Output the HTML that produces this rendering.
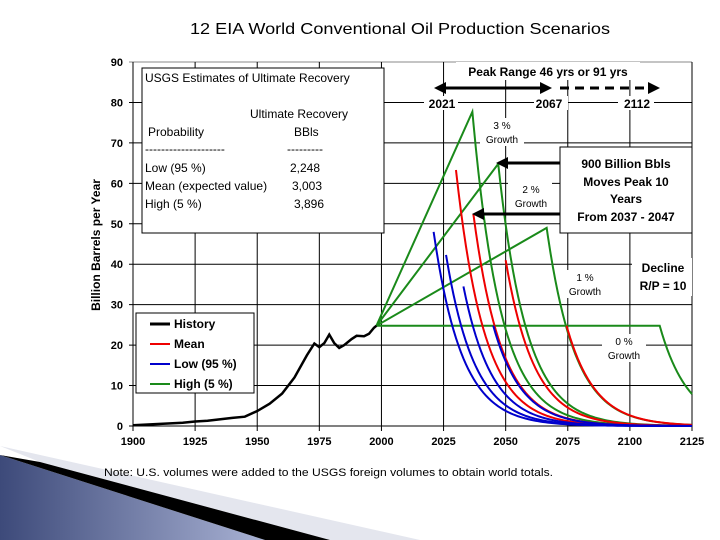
<!DOCTYPE html>
<html><head><meta charset="utf-8"><style>
body{margin:0;background:#fff;}
svg{display:block;font-family:"Liberation Sans",sans-serif;}
</style></head><body>
<svg width="720" height="540" viewBox="0 0 720 540">
<defs><linearGradient id="g1" x1="0" y1="0" x2="1" y2="0"><stop offset="0" stop-color="#3d4a7a"/><stop offset="1" stop-color="#a9b2d4"/></linearGradient></defs>
<polygon points="0,446 420,540 330,540 40,462" fill="#e4e6ee"/>
<polygon points="0,455 265,540 0,540" fill="url(#g1)"/>
<polygon points="40,462 330,540 265,540 0,455" fill="#000"/>
<text x="190" y="34" font-size="16" textLength="420" lengthAdjust="spacingAndGlyphs">12 EIA World Conventional Oil Production Scenarios</text>
<g id="grid"></g>
<g id="marks"></g>
<g id="overlay"></g>
<text transform="translate(100,245) rotate(-90)" font-size="12" font-weight="bold" text-anchor="middle">Billion Barrels per Year</text>
<text x="104" y="476" font-size="11" textLength="449" lengthAdjust="spacingAndGlyphs">Note:  U.S. volumes were added to the USGS foreign volumes to obtain world totals.</text>
</svg>
<script>
const historyYears=[1900,1910,1920,1925,1930,1940,1945,1950,1955,1960,1965,1970,1973,1975,1977,1979,1981,1983,1985,1988,1990,1993,1995,1997,1998];
const historyValues=[0.2,0.5,0.8,1.1,1.3,2,2.3,3.7,5.5,8,12,17.5,20.4,19.5,20.5,22.6,20.5,19.3,20,21.5,22.3,22.2,22.8,24.3,24.8];
const startYear=1998, startValue=24.8;
const growthPeakYears=[2036.6,2047,2066.5,2112];
const growthPeakValues=[77.7,64.8,49,24.8];
const meanPeakYears=[2030,2037,2050,2074.5];
const meanPeakValues=[63.3,52.4,41,24.8];
const lowPeakYears=[2021,2026,2033,2045];
const lowPeakValues=[48,42.3,34.5,24.8];
const declineRate=0.088;
const yTicks=[0,10,20,30,40,50,60,70,80,90];
const xTicks=[1900,1925,1950,1975,2000,2025,2050,2075,2100,2125];
const L=133,R=692,T=62,B=426;
const X=y=>L+(y-1900)/(225)*(R-L);
const Y=v=>B-v/90*(B-T);
const NS="http://www.w3.org/2000/svg";
function mk(tag,attrs,parent,txt){const e=document.createElementNS(NS,tag);for(const k in attrs)e.setAttribute(k,attrs[k]);if(txt!==undefined)e.textContent=txt;parent.appendChild(e);return e;}
const grid=document.getElementById('grid'),marks=document.getElementById('marks');
yTicks.forEach(v=>{
 const l=mk('line',{x1:L-4,x2:R,y1:Y(v),y2:Y(v),stroke:v==90?'#888':'#000','stroke-width':1},grid);
 
 
 const t=mk('text',{x:L-10,y:Y(v)+4,'font-size':11,'font-weight':'bold','text-anchor':'end'},grid,v);
 
 
});
xTicks.forEach(v=>{
 const l=mk('line',{x1:X(v),x2:X(v),y1:T,y2:B+5,stroke:'#000','stroke-width':1},grid);
 
 
 const t=mk('text',{x:X(v),y:B+19,'font-size':11,'font-weight':'bold','text-anchor':'middle'},grid,v);
 
 
});
function decline(py,pv){let d=`M${X(py)},${Y(pv)}`;for(let y=Math.ceil(py);y<=2125;y++){d+=` L${X(y)},${Y(pv*Math.exp(-declineRate*(y-py)))}`;}return d;}
function rise(py,pv){return `M${X(startYear)},${Y(startValue)} L${X(py)},${Y(pv)}`;}
growthPeakYears.forEach((py,i)=>{
 const p=mk('path',{d:rise(py,growthPeakValues[i])+' '+decline(py,growthPeakValues[i]).replace('M','L'),fill:'none',stroke:'#1a8a1a','stroke-width':2},marks);
 
 
});
meanPeakYears.forEach((py,i)=>{const p=mk('path',{d:decline(py,meanPeakValues[i]),fill:'none',stroke:'#e00','stroke-width':2},marks);
 
 });
lowPeakYears.forEach((py,i)=>{const p=mk('path',{d:decline(py,lowPeakValues[i]),fill:'none',stroke:'#00c','stroke-width':2},marks);
 
 });
const hp=mk('path',{d:historyYears.map((y,i)=>(i?'L':'M')+X(y)+','+Y(historyValues[i])).join(' '),fill:'none',stroke:'#000','stroke-width':2.5},marks);


</script>
<script>
(function(){
const ov=document.getElementById('overlay');
ov.innerHTML=`
<g>
<rect x="142" y="68" width="242" height="165" fill="#fff" stroke="#000"/>
<g font-size="12">
<text x="145" y="82">USGS Estimates of Ultimate Recovery</text>
<text x="250" y="118">Ultimate Recovery</text>
<text x="148" y="136">Probability</text><text x="294" y="136">BBls</text>
<text x="145" y="153">--------------------</text><text x="287" y="153">---------</text>
<text x="145" y="172">Low (95 %)</text><text x="290" y="172">2,248</text>
<text x="145" y="190">Mean (expected value)</text><text x="292" y="190">3,003</text>
<text x="145" y="208">High (5 %)</text><text x="294" y="208">3,896</text>
</g></g>
<g font-size="12" font-weight="bold">
<rect x="136" y="313" width="118" height="80" fill="#fff" stroke="#000"/>
<line x1="150" x2="170" y1="324" y2="324" stroke="#000" stroke-width="3"/><text x="174" y="328">History</text>
<line x1="150" x2="170" y1="344" y2="344" stroke="#e00" stroke-width="2"/><text x="174" y="348">Mean</text>
<line x1="150" x2="170" y1="364" y2="364" stroke="#00c" stroke-width="2"/><text x="174" y="368">Low (95 %)</text>
<line x1="150" x2="170" y1="384" y2="384" stroke="#1a8a1a" stroke-width="2"/><text x="174" y="388">High (5 %)</text>
</g>
<g>
<rect x="456" y="62" width="184" height="18" fill="#fff"/>
<text x="548" y="76" font-size="12" font-weight="bold" text-anchor="middle">Peak Range 46 yrs or 91 yrs</text>
<line x1="444" x2="542" y1="88" y2="88" stroke="#000" stroke-width="3"/>
<polygon points="434,88 446,82 446,94"/><polygon points="552,88 540,82 540,94"/>
<line x1="560" x2="650" y1="88" y2="88" stroke="#000" stroke-width="3" stroke-dasharray="9,6"/>
<polygon points="660,88 648,82 648,94"/>
<g font-size="12" font-weight="bold" text-anchor="middle">
<rect x="424" y="96" width="34" height="14" fill="#fff"/><text x="442" y="108">2021</text>
<rect x="534" y="96" width="34" height="14" fill="#fff"/><text x="549" y="108">2067</text>
<rect x="618" y="96" width="36" height="14" fill="#fff"/><text x="637" y="108">2112</text></g>
</g>
<g font-size="10" text-anchor="middle">
<rect x="480" y="118" width="44" height="28" fill="#fff"/><text x="502" y="129">3 %</text><text x="502" y="143">Growth</text>
<rect x="508" y="182" width="44" height="28" fill="#fff"/><text x="531" y="193">2 %</text><text x="531" y="207">Growth</text>
<rect x="562" y="270" width="46" height="28" fill="#fff"/><text x="585" y="281">1 %</text><text x="585" y="295">Growth</text>
<rect x="602" y="334" width="44" height="28" fill="#fff"/><text x="624" y="345">0 %</text><text x="624" y="359">Growth</text>
</g>
<g font-size="12" font-weight="bold" text-anchor="middle">
<rect x="632" y="258" width="60" height="38" fill="#fff"/><text x="663" y="272">Decline</text><text x="663" y="290">R/P = 10</text></g>
<g>
<line x1="560" x2="506" y1="163" y2="163" stroke="#000" stroke-width="3"/><polygon points="496,163 508,157 508,169"/>
<line x1="560" x2="482" y1="214" y2="214" stroke="#000" stroke-width="3"/><polygon points="472,214 484,208 484,220"/>
<rect x="560" y="147" width="132" height="86" fill="#fff" stroke="#000"/>
<g font-size="12" font-weight="bold" text-anchor="middle"><text x="626" y="168">900 Billion Bbls</text><text x="626" y="186">Moves Peak 10</text><text x="626" y="203">Years</text><text x="626" y="221">From 2037 - 2047</text></g>
</g>`;
})();
</script>
</body></html>
